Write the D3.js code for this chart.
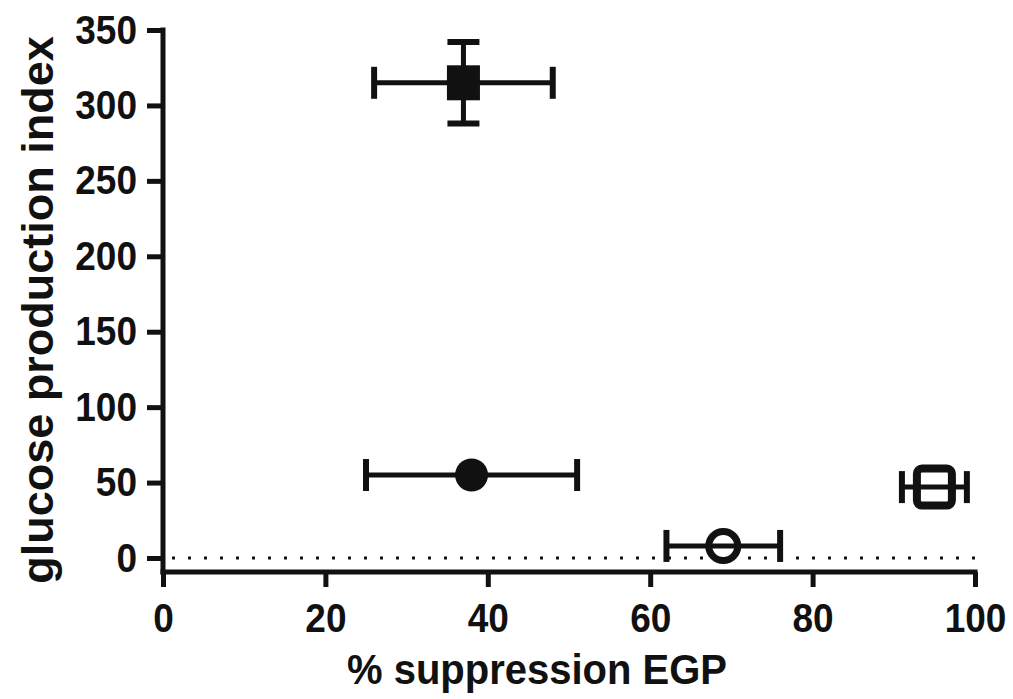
<!DOCTYPE html>
<html>
<head>
<meta charset="utf-8">
<script src="https://cdn.jsdelivr.net/npm/d3@7"></script>
<style>
  html, body { margin: 0; padding: 0; background: #fff; }
  svg text { font-family: "Liberation Sans", Arial, sans-serif; font-weight: bold; fill: #111; }
</style>
</head>
<body>
<svg id="chart" width="1013" height="699"></svg>
<script>
// values
const suppression    = [37, 38, 69, 95];
const suppressionErr = [11, 13, 7, 4];
const gpi            = [315, 55, 8, 47];
const gpiErr         = [27, 0, 0, 0];
const shapes         = ["square", "circle", "circle", "square"];
const filled         = [true, true, false, false];

const xTicks = [0, 20, 40, 60, 80, 100];
const yTicks = [0, 50, 100, 150, 200, 250, 300, 350];

const xTitle = "% suppression EGP";
const yTitle = "glucose production index";

const svg = d3.select("#chart");

const x = d3.scaleLinear()
            .domain([0, 100])
            .range([163, 975]);

const y = d3.scaleLinear()
            .domain([0, 350])
            .range([558, 30]);

const axisY = 572;      // x axis sits below y = 0 (prism style)
const lw = 5;
const capLen = 32;
const stretch = 1.1;    // glyphs in the source look a bit tall

// dotted zero line
svg.append("line")
   .attr("x1", x(0) + 9)
   .attr("x2", x(100))
   .attr("y1", y(0))
   .attr("y2", y(0))
   .attr("stroke", "#111")
   .attr("stroke-width", 3.2)
   .attr("stroke-dasharray", "3,13");

// y axis
const gy = svg.append("g")
              .attr("transform", `translate(${x(0)},0)`)
              .call(d3.axisLeft(y).tickValues(yTicks).tickSize(16).tickPadding(10).tickSizeOuter(0));

gy.select(".domain").remove();
gy.selectAll(".tick line").attr("stroke", "#111").attr("stroke-width", lw);
gy.selectAll(".tick text")
  .style("font-size", "37px")
  .attr("font-family", null)
  .attr("transform", `scale(1,${stretch})`);

gy.append("line")
  .attr("x1", 0).attr("x2", 0)
  .attr("y1", y(350) - lw / 2)
  .attr("y2", axisY + lw / 2)
  .attr("stroke", "#111")
  .attr("stroke-width", lw);

// x axis
const gx = svg.append("g")
              .attr("transform", `translate(0,${axisY})`)
              .call(d3.axisBottom(x).tickValues(xTicks).tickSize(15).tickPadding(13).tickSizeOuter(0));

gx.select(".domain").remove();
gx.selectAll(".tick line").attr("stroke", "#111").attr("stroke-width", lw);
gx.selectAll(".tick text")
  .style("font-size", "37px")
  .attr("font-family", null)
  .attr("transform", `scale(1,${stretch})`);

gx.append("line")
  .attr("x1", x(0) - lw / 2)
  .attr("x2", x(100) + lw / 2)
  .attr("y1", 0).attr("y2", 0)
  .attr("stroke", "#111")
  .attr("stroke-width", lw);

// axis titles
svg.append("text")
   .attr("transform", `translate(537,684) scale(1,1.05)`)
   .attr("text-anchor", "middle")
   .style("font-size", "40px")
   .text(xTitle);

svg.append("text")
   .attr("transform", "translate(53,310) rotate(-90)")
   .attr("text-anchor", "middle")
   .style("font-size", "45px")
   .text(yTitle);

// error bars + markers
const pts = svg.append("g");

suppression.forEach((sx, i) => {
    const cx = x(sx);
    const cy = y(gpi[i]);
    const x1 = x(sx - suppressionErr[i]);
    const x2 = x(sx + suppressionErr[i]);

    pts.append("line")
       .attr("x1", x1).attr("x2", x2)
       .attr("y1", cy).attr("y2", cy)
       .attr("stroke", "#111").attr("stroke-width", lw);

    [x1, x2].forEach(cxp => {
        pts.append("line")
           .attr("x1", cxp).attr("x2", cxp)
           .attr("y1", cy - capLen / 2).attr("y2", cy + capLen / 2)
           .attr("stroke", "#111").attr("stroke-width", 6);
    });

    if (gpiErr[i] > 0) {
        const y1 = y(gpi[i] + gpiErr[i]);
        const y2 = y(gpi[i] - gpiErr[i]);
        pts.append("line")
           .attr("x1", cx).attr("x2", cx)
           .attr("y1", y1).attr("y2", y2)
           .attr("stroke", "#111").attr("stroke-width", lw);

        [y1, y2].forEach(cyp => {
            pts.append("line")
               .attr("x1", cx - capLen / 2).attr("x2", cx + capLen / 2)
               .attr("y1", cyp).attr("y2", cyp)
               .attr("stroke", "#111").attr("stroke-width", 6);
        });
    }

    if (shapes[i] === "square") {
        if (filled[i]) {
            pts.append("rect")
               .attr("x", cx - 16.5).attr("y", cy - 17.5)
               .attr("width", 33).attr("height", 35)
               .attr("fill", "#111");
        } else {
            pts.append("rect")
               .attr("x", cx - 17.5).attr("y", cy - 18.5)
               .attr("width", 35).attr("height", 37)
               .attr("rx", 5)
               .attr("fill", "none")
               .attr("stroke", "#111")
               .attr("stroke-width", 8);
        }
    } else {
        if (filled[i]) {
            pts.append("circle")
               .attr("cx", cx).attr("cy", cy)
               .attr("r", 16.5)
               .attr("fill", "#111");
        } else {
            pts.append("circle")
               .attr("cx", cx).attr("cy", cy)
               .attr("r", 14.5)
               .attr("fill", "none")
               .attr("stroke", "#111")
               .attr("stroke-width", 7);
        }
    }
});
</script>
</body>
</html>
